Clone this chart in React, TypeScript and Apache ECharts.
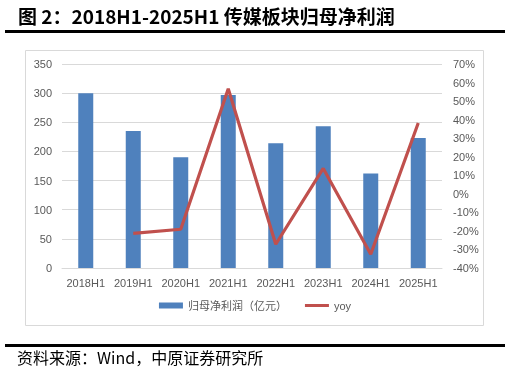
import React, { useEffect, useRef } from "react";
import * as echarts from "echarts";

const categories = ["2018H1", "2019H1", "2020H1", "2021H1", "2022H1", "2023H1", "2024H1", "2025H1"];
const profit = [300, 235, 190, 297, 214, 243, 162, 223];
const yoy = [null, -21.3, -19.1, 56.7, -27.2, 13.7, -32.6, 38.2];
const titleText = "图 2：2018H1-2025H1 传媒板块归母净利润";
const sourceText = "资料来源：Wind，中原证券研究所";
const barName = "归母净利润（亿元）";
const lineName = "yoy";

export default function App() {
  const ref = useRef<HTMLDivElement>(null);
  useEffect(() => {
    if (!ref.current) return;
    const chart = echarts.init(ref.current, null, { renderer: "svg" });
    const gray = "#595959";
    const font = "'Liberation Sans', 'Noto Sans CJK SC', sans-serif";
    chart.setOption({
      animation: false,
      textStyle: { fontFamily: font },
      grid: { left: 62, right: 68, top: 64, bottom: 110 },
      legend: {
        bottom: 62,
        left: "center",
        itemGap: 18,
        itemWidth: 24,
        itemHeight: 6,
        textStyle: { color: gray, fontSize: 11, fontFamily: font },
        data: [
          { name: barName, icon: "rect" },
          { name: lineName, icon: "path://M0,0 L24,0 L24,3 L0,3 Z" },
        ],
      },
      xAxis: {
        type: "category",
        data: categories,
        axisTick: { show: false },
        axisLine: { lineStyle: { color: "#D9D9D9" } },
        axisLabel: { color: gray, fontSize: 11, margin: 9, interval: 0 },
      },
      yAxis: [
        {
          type: "value",
          min: 0,
          max: 350,
          interval: 50,
          axisLabel: { color: gray, fontSize: 11, margin: 10 },
          splitLine: { lineStyle: { color: "#D9D9D9" } },
          axisLine: { show: false },
          axisTick: { show: false },
        },
        {
          type: "value",
          min: -40,
          max: 70,
          interval: 10,
          axisLabel: { color: gray, fontSize: 11, margin: 11, formatter: "{value}%" },
          splitLine: { show: false },
          axisLine: { show: false },
          axisTick: { show: false },
        },
      ],
      series: [
        {
          name: barName,
          type: "bar",
          data: profit,
          barWidth: 15,
          itemStyle: { color: "#4F81BD" },
        },
        {
          name: lineName,
          type: "line",
          yAxisIndex: 1,
          data: yoy,
          symbol: "none",
          lineStyle: { color: "#C0504D", width: 3.2 },
          itemStyle: { color: "#C0504D" },
        },
      ],
      graphic: [
        {
          type: "text",
          left: 18,
          top: 6,
          style: {
            text: titleText,
            fill: "#000",
            font: "bold 19px 'Noto Sans CJK SC', sans-serif",
          },
        },
        { type: "rect", shape: { x: 5, y: 30, width: 500, height: 3 }, style: { fill: "#000" } },
        {
          type: "rect",
          shape: { x: 25.5, y: 50.5, width: 458, height: 275 },
          style: { fill: "none", stroke: "#D9D9D9", lineWidth: 1 },
          z: -1,
        },
        { type: "rect", shape: { x: 5, y: 344, width: 500, height: 3 }, style: { fill: "#000" } },
        {
          type: "text",
          left: 17,
          top: 349,
          style: {
            text: sourceText,
            fill: "#000",
            font: "16px 'Noto Sans CJK SC', sans-serif",
          },
        },
      ],
    });
    return () => chart.dispose();
  }, []);
  return <div ref={ref} style={{ position: "fixed", left: 0, top: 0, width: 510, height: 378 }} />;
}
